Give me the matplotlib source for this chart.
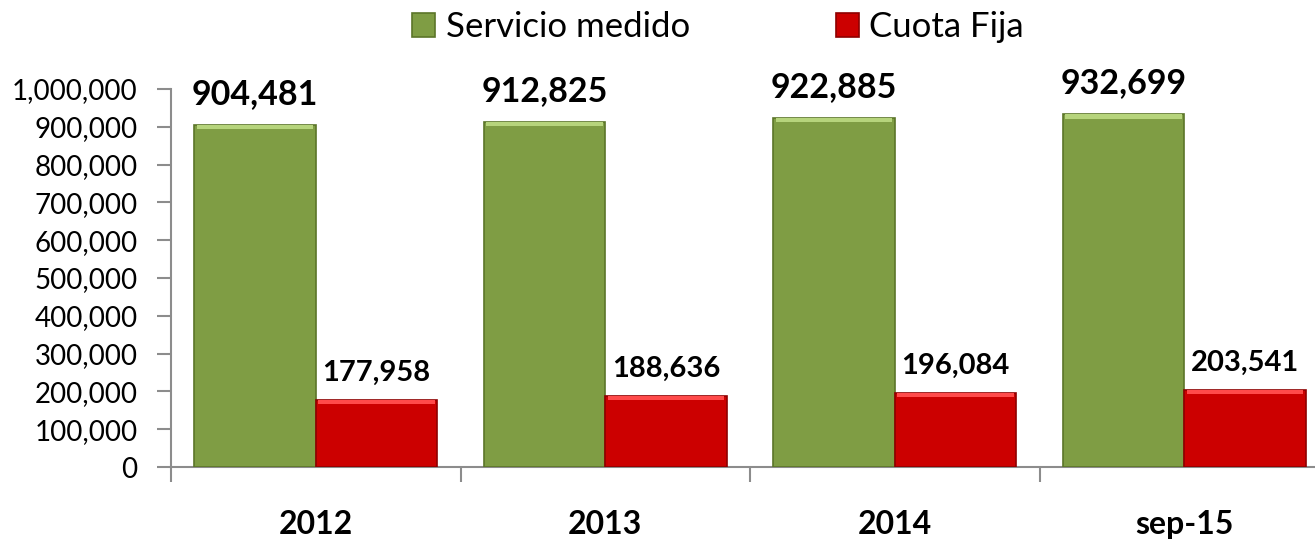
import matplotlib.pyplot as plt
import numpy as np
from matplotlib.ticker import FuncFormatter

plt.rcParams['font.family'] = ['Lato', 'DejaVu Sans']

# ---------------- data ----------------
categories = ['2012', '2013', '2014', 'sep-15']
servicio_medido = [904481, 912825, 922885, 932699]
cuota_fija = [177958, 188636, 196084, 203541]

colors = {
    'medido': '#7F9D44',
    'medido_edge': '#5B7529',
    'medido_top': '#B6D47C',
    'fija': '#CC0000',
    'fija_edge': '#8E0000',
    'fija_top': '#FF4A4A',
}

W, H = 1315, 542
fig = plt.figure(figsize=(W / 100, H / 100), dpi=100)
ax = fig.add_axes([171 / W, (H - 467) / H, 1158 / W, (467 - 89) / H])

x = np.arange(len(categories))
bw = 0.42

b1 = ax.bar(x - bw / 2, servicio_medido, width=bw, color=colors['medido'],
            edgecolor=colors['medido_edge'], linewidth=1.2, label='Servicio medido', zorder=3)
b2 = ax.bar(x + bw / 2, cuota_fija, width=bw, color=colors['fija'],
            edgecolor=colors['fija_edge'], linewidth=1.2, label='Cuota Fija', zorder=3)

# bevel highlight on top of each bar
band = 11000
ax.bar(x - bw / 2, band, bottom=np.array(servicio_medido) - band, width=bw * 0.96,
       color=colors['medido_top'], linewidth=0, zorder=4)
ax.bar(x + bw / 2, band, bottom=np.array(cuota_fija) - band, width=bw * 0.96,
       color=colors['fija_top'], linewidth=0, zorder=4)

# value labels
for xi, v in zip(x, servicio_medido):
    ax.text(xi - bw / 2, v + 40000, f'{v:,}', ha='center', va='bottom',
            fontsize=24.5, fontweight='bold', color='black')
for xi, v in zip(x, cuota_fija):
    ax.text(xi + bw / 2, v + 37000, f'{v:,}', ha='center', va='bottom',
            fontsize=21, fontweight='bold', color='black')

# axes
ax.set_xlim(-0.5, len(categories) - 0.5)
ax.set_ylim(0, 1_000_000)
ax.set_yticks(np.arange(0, 1_000_001, 100_000))
ax.yaxis.set_major_formatter(FuncFormatter(lambda v, _: f'{int(v):,}'))
ax.tick_params(axis='y', which='major', length=10, width=1.5, color='#8C8C8C',
               labelsize=20, pad=14)

ax.set_xticks(np.arange(-0.5, len(categories) + 0.5, 1.0))
ax.set_xticklabels([])
ax.tick_params(axis='x', which='major', length=11, width=1.5, color='#8C8C8C')
ax.set_xticks(x, minor=True)
ax.set_xticklabels(categories, minor=True, fontsize=23, fontweight='bold')
ax.tick_params(axis='x', which='minor', length=0, pad=31)

for side in ['top', 'right']:
    ax.spines[side].set_visible(False)
for side in ['left', 'bottom']:
    ax.spines[side].set_color('#8C8C8C')
    ax.spines[side].set_linewidth(1.5)
ax.grid(False)

fig.legend(handles=[b1, b2], loc='center', bbox_to_anchor=(0.546, 0.95), ncol=2,
           frameon=False, fontsize=25, handlelength=0.66, handleheight=0.66,
           handletextpad=0.3, columnspacing=4.2, borderaxespad=0)

plt.savefig('out.png', dpi=100)
